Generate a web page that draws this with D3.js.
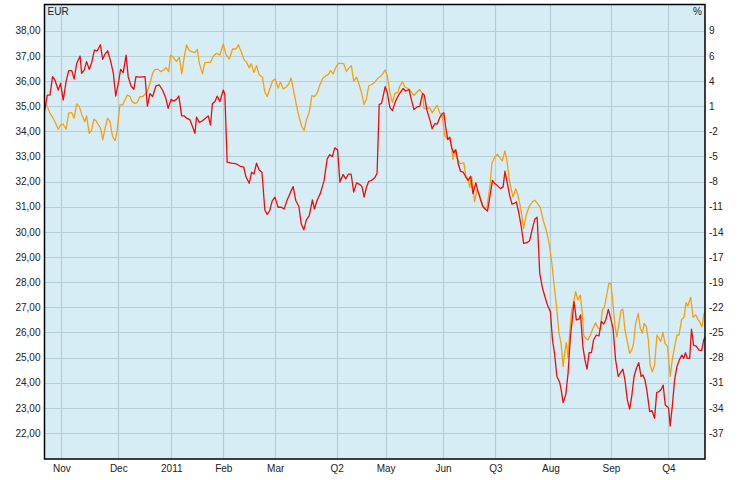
<!DOCTYPE html>
<html><head><meta charset="utf-8">
<script src="https://cdn.jsdelivr.net/npm/d3@7"></script>
<style>
html,body{margin:0;padding:0;background:#fff;}
svg{display:block;}
.tick text{font-family:"Liberation Sans",Arial,sans-serif;font-size:10px;fill:#222;}
</style></head>
<body>
<svg id="chart" width="750" height="480"></svg>
<script>
// trading-day index of month gridlines and their labels
const monthDays = [6.5, 28.4, 48.8, 68.8, 88.8, 112.4, 131.3, 153.4, 173.5, 194.7, 218, 240.1];
const monthLabels = ["Nov","Dec","2011","Feb","Mar","Q2","May","Jun","Q3","Aug","Sep","Q4"];
const priceTicks = [22,23,24,25,26,27,28,29,30,31,32,33,34,35,36,37,38];
const priceLabels = ["22,00","23,00","24,00","25,00","26,00","27,00","28,00","29,00","30,00","31,00","32,00","33,00","34,00","35,00","36,00","37,00","38,00"];
const pctLabels = ["-37","-34","-31","-28","-25","-22","-19","-17","-14","-11","-8","-5","-2","1","4","6","9"];
const dayDomain = [0, 254.2];
const priceDomain = [20.97, 39.04];

// [trading day, EUR] - stock (red)
const redSeries = [
[0,34.78],[1.1,35.44],[2.1,35.44],[3.1,36.17],[4,36.04],[5.3,35.64],[6.2,35.9],[7.2,35.24],[8.3,35.97],[9.3,36.41],
[10.5,36.41],[11.4,36.07],[12.4,36.7],[13.7,36.99],[14.3,36.3],[15.3,36.44],[16.2,36.77],[17.2,36.46],[18.1,36.7],[19.2,37.23],
[20.3,37.2],[21.5,37.44],[22.4,36.86],[23.3,37.07],[24.3,37.2],[25.5,36.77],[26.5,36.3],[27.4,35.4],[28.4,35.9],[29.3,36.46],
[30.3,36.33],[31.4,37.03],[32.2,36.17],[33.3,35.8],[34.4,35.67],[35.2,36.17],[36.7,36.15],[38.7,36.17],[39.6,35.0],[40.6,35.5],
[41.6,35.38],[42.9,35.8],[44.2,35.84],[45.5,35.62],[46.7,35.31],[47.6,34.91],[48.7,35.27],[49.6,35.2],[50.8,35.27],[51.7,35.4],
[52.8,34.61],[53.8,34.61],[54.7,34.52],[56,34.45],[57.2,34.12],[57.9,33.92],[58.5,34.56],[59.6,34.35],[60.8,34.42],[62.4,34.56],
[63,34.61],[63.9,34.25],[64.6,35.09],[65.6,35.18],[66.5,35.4],[67.5,35.18],[68.8,35.64],[69.4,35.48],[70.3,32.77],[72,32.73],
[73.9,32.7],[75.5,32.6],[76.7,32.57],[77.5,32.2],[78.8,31.93],[79.7,32.37],[80.6,32.3],[81.6,32.73],[82.6,32.46],[83.7,32.37],
[84.8,30.87],[85.7,30.69],[86.7,30.85],[87.6,31.22],[88.7,31.38],[89.9,30.98],[91.2,30.98],[92.2,30.91],[93.4,31.27],[94.7,31.58],
[95.7,31.8],[96.7,31.25],[97.9,31.01],[98.8,30.32],[99.8,30.08],[100.8,30.48],[101.9,30.65],[103.1,31.27],[103.9,30.91],[104.9,31.25],
[106.2,31.54],[107.6,32.04],[108.8,32.9],[109.8,33.07],[110.8,32.99],[111.7,33.34],[112.8,33.26],[113.7,31.97],[114.9,32.28],[116,32.11],
[117,32.3],[118,32.3],[119,31.58],[120.1,31.95],[121.4,31.88],[122.2,31.8],[123,31.38],[123.9,31.77],[124.8,32.01],[125.8,32.04],
[127.1,32.15],[128,32.33],[128.8,35.06],[129.7,35.11],[130.3,35.38],[131.1,35.77],[132,35.51],[132.9,34.95],[133.9,34.82],[135.2,35.22],
[136.5,35.48],[138,35.7],[139,35.6],[140.3,35.66],[141.2,35.26],[142.2,34.86],[143.4,34.97],[144.4,34.99],[145.5,35.5],[146.2,35.43],
[147.2,34.83],[148.3,34.46],[149.2,34.1],[150.2,34.3],[151.1,34.28],[152.1,34.54],[153.1,34.7],[153.7,34.73],[154.4,34.17],[155.2,33.67],
[156,33.75],[156.7,33.35],[157.5,33.14],[158.3,33.27],[159.2,32.72],[160.1,32.41],[161.1,32.38],[162.1,32.19],[163,32.05],[164,32.21],
[164.9,31.52],[166,31.95],[166.9,31.59],[167.8,31.28],[168.8,30.99],[169.8,30.89],[170.5,30.83],[171.4,31.39],[172.4,32.05],[173.3,31.92],
[174.2,31.85],[175.5,31.72],[176.5,31.79],[177.2,32.41],[178.1,31.95],[179,31.46],[179.9,31.1],[180.7,31.13],[181.6,31.19],[182.6,30.73],
[183.5,30.2],[184.4,29.54],[185.7,29.57],[186.7,29.65],[187.8,30.14],[188.7,30.5],[189.6,30.58],[190.6,28.35],[191.6,27.79],[192.6,27.42],
[193.7,27.05],[194.7,26.83],[195.5,25.7],[196.3,25.17],[197.2,24.25],[198.3,24.01],[198.9,23.69],[199.6,23.21],[200.6,23.52],[201.5,24.38],
[202.4,25.83],[203.1,26.5],[203.8,27.23],[204.7,26.5],[205.6,26.52],[206.3,26.7],[207.2,25.44],[208,24.91],[208.8,24.54],[209.6,25.2],
[210.5,25.2],[211.3,25.7],[212.4,25.9],[213.4,25.86],[214.3,26.44],[215.2,26.34],[216,26.5],[217,26.92],[217.8,26.6],[218.8,26.17],
[219.8,24.91],[220.8,24.25],[221.7,24.4],[222.6,24.54],[223.4,24.11],[224.3,23.32],[225.2,22.95],[226,23.46],[226.9,24.25],[227.8,24.58],
[228.7,24.8],[229.6,24.25],[230.3,24.31],[231.1,24.11],[231.9,23.65],[232.9,22.85],[233.8,22.89],[234.8,22.59],[235.6,23.61],[236.5,23.65],
[237.4,23.74],[238.1,23.91],[238.9,23.12],[239.7,23.05],[240.2,22.99],[240.8,22.28],[241.6,23.05],[242.5,24.11],[243.4,24.64],[244.4,24.93],
[245.3,25.1],[246,24.97],[246.7,25.2],[247.4,24.97],[248.3,24.97],[249,26.13],[249.8,25.5],[250.8,25.46],[251.9,25.3],[252.9,25.28],
[253.7,25.7],[254.2,25.83]
];

// [trading day, EUR-equivalent] - comparison index (orange)
const orangeSeries = [
[0,35.12],[1.1,34.98],[2.1,34.72],[3.1,34.56],[4,34.38],[5.3,34.08],[6.2,34.25],[7.2,34.28],[8.3,34.08],[9.3,34.72],
[10.5,34.74],[11.4,34.52],[12.4,35.09],[13.4,34.98],[14.4,34.65],[15.5,34.38],[16.2,34.61],[17.2,33.92],[18.1,34.03],[19,34.48],
[19.8,34.42],[20.8,34.25],[21.6,34.12],[22.4,33.66],[23.3,34.12],[24.3,34.52],[25.2,34.38],[26.2,33.79],[27.2,33.63],[28,34.05],
[29,35.05],[30.1,35.05],[31,35.25],[31.9,35.44],[32.9,35.38],[33.7,35.18],[34.7,35.11],[35.7,35.14],[36.7,35.38],[37.8,35.38],
[38.8,35.48],[39.6,35.58],[40.6,35.91],[41.6,36.3],[42.5,36.46],[43.8,36.46],[44.7,36.37],[46,36.44],[46.7,36.54],[47.8,36.37],
[48.5,37.03],[49.6,36.94],[50.8,36.77],[51.9,36.94],[52.8,36.28],[53.8,36.97],[54.7,37.43],[55.7,37.21],[56.7,37.17],[57.9,37.13],
[58.8,37.26],[59.6,36.7],[60.8,36.28],[61.7,36.73],[62.8,36.74],[63.9,36.74],[64.9,36.97],[66.2,37.1],[67.5,37.03],[68.8,37.47],
[69.8,37.07],[71.1,36.87],[72.4,37.27],[73.7,37.27],[74.6,37.44],[75.8,37.14],[76.7,36.87],[77.8,36.74],[78.8,36.52],[79.6,36.68],
[80.6,36.34],[81.6,36.61],[82.6,36.25],[83.9,36.15],[84.8,35.55],[85.7,35.38],[86.7,35.68],[87.8,36.01],[88.8,36.08],[89.9,35.72],
[90.8,35.95],[91.9,35.68],[92.9,35.75],[94,35.88],[94.9,36.12],[96,35.55],[97,35.02],[98,34.56],[99,34.19],[99.9,34.03],
[100.8,34.45],[101.9,34.76],[102.9,35.42],[103.9,35.38],[104.9,35.51],[106,35.85],[107.2,36.12],[108.3,36.21],[109.2,36.25],[110.1,36.41],
[111.1,36.28],[112.1,36.54],[113.1,36.7],[114.4,36.7],[115.2,36.68],[116.2,36.38],[117.2,36.52],[118.1,36.61],[119,35.99],[120.1,36.15],
[121.1,35.85],[122.1,35.51],[123,35.06],[123.9,35.28],[124.8,35.81],[125.8,35.85],[127.1,35.95],[128.4,36.12],[129.6,36.21],[130.3,36.3],
[131.1,36.44],[131.9,36.21],[132.9,35.55],[133.9,35.15],[134.9,35.51],[136,35.55],[136.7,35.79],[137.8,35.96],[138.7,35.76],[139.9,35.7],
[141.2,35.56],[142.2,35.43],[143.4,35.56],[144.4,35.66],[145.5,35.5],[146.1,34.9],[147.2,34.9],[148.3,34.94],[149.2,34.73],[150.2,34.9],
[151.1,35.03],[152.1,34.73],[153.1,34.64],[154,33.84],[154.9,33.71],[156,33.77],[156.7,33.38],[157.2,32.87],[157.9,33.25],[158.8,32.95],
[159.8,32.72],[160.6,32.72],[161.4,32.74],[162.1,32.25],[163,32.08],[163.7,31.76],[164.4,32.19],[165.5,31.19],[166.5,31.68],[167.5,31.46],
[168.5,31.06],[169.6,30.93],[170.3,30.99],[171.4,31.79],[172.2,32.74],[173.3,32.98],[174.3,33.09],[175.2,32.95],[176.2,32.82],[177.2,33.22],
[178,32.82],[179,31.99],[180.3,31.39],[181.4,31.72],[182.2,31.46],[182.9,31.13],[183.5,30.8],[184.4,30.14],[185.4,30.67],[186.5,31.0],
[187.8,31.2],[188.7,31.26],[189.9,31.1],[190.8,30.97],[191.9,30.47],[193.1,30.07],[194.2,29.54],[195.2,28.81],[196.2,27.82],[197.2,26.89],
[198,25.97],[198.8,25.57],[199.6,24.64],[200.2,25.2],[200.8,25.6],[201.5,25.01],[202.1,25.97],[202.9,26.89],[203.7,27.23],[204.4,27.62],
[205.3,27.29],[206.2,27.49],[207,26.76],[207.5,25.9],[208.3,25.77],[209.2,25.7],[210.1,25.9],[211.1,26.17],[212.1,26.39],[213.1,26.17],
[213.9,26.13],[214.7,26.89],[215.6,27.05],[216.5,27.56],[217.2,27.95],[218,27.95],[218.8,27.13],[219.6,26.23],[220.3,25.83],[221.1,26.36],
[221.9,26.89],[222.6,26.92],[223.4,26.1],[224.2,25.7],[225.2,25.17],[226,25.3],[226.7,25.57],[227.5,26.36],[228.5,26.76],[229.3,26.17],
[230.1,25.97],[230.8,26.36],[231.6,26.23],[232.4,25.7],[233.1,24.71],[233.9,24.44],[234.8,24.71],[235.7,25.9],[236.5,25.77],[237.1,25.64],
[238,26.0],[238.8,25.57],[239.8,25.44],[240.8,24.25],[241.6,24.91],[242.5,25.44],[243.4,25.9],[244.2,25.9],[245.2,26.52],[246.1,26.6],
[246.9,27.19],[247.6,27.05],[248.7,27.4],[249.6,26.6],[250.6,26.7],[251.5,26.52],[252.1,26.43],[253,26.23],[253.8,26.74],[254.2,26.83]
];

const W = 750, H = 480;
const margin = {top: 4.5, right: 45, bottom: 21, left: 44.5};
const svg = d3.select("#chart");
const x = d3.scaleLinear().domain(dayDomain).range([margin.left, W - margin.right]);
const y = d3.scaleLinear().domain(priceDomain).range([H - margin.bottom, margin.top]);

// plot background
svg.append("rect")
  .attr("x", margin.left).attr("y", margin.top)
  .attr("width", W - margin.right - margin.left).attr("height", H - margin.bottom - margin.top)
  .attr("fill", "#d6edf5");

// gridlines
const grid = svg.append("g").attr("stroke", "#b3ced8").attr("stroke-width", 1.2);
grid.selectAll("line.h").data(priceTicks).join("line").attr("class","h")
  .attr("x1", margin.left).attr("x2", W - margin.right)
  .attr("y1", d => Math.round(y(d)) + 0.5).attr("y2", d => Math.round(y(d)) + 0.5);
grid.selectAll("line.v").data(monthDays).join("line").attr("class","v")
  .attr("y1", margin.top).attr("y2", H - margin.bottom)
  .attr("x1", d => Math.round(x(d)) + 0.5).attr("x2", d => Math.round(x(d)) + 0.5);

// clip
svg.append("clipPath").attr("id","clip").append("rect")
  .attr("x", margin.left).attr("y", margin.top)
  .attr("width", W - margin.right - margin.left).attr("height", H - margin.bottom - margin.top);

const line = d3.line().x(d => x(d[0])).y(d => y(d[1]));
const plot = svg.append("g").attr("clip-path","url(#clip)");
plot.append("path").datum(orangeSeries).attr("d", line)
  .attr("fill","none").attr("stroke","#f7a00e").attr("stroke-width",1.3).attr("stroke-linejoin","round");
plot.append("path").datum(redSeries).attr("d", line)
  .attr("fill","none").attr("stroke","#f00a0a").attr("stroke-width",1.3).attr("stroke-linejoin","round");

// border
svg.append("rect")
  .attr("x", margin.left).attr("y", margin.top)
  .attr("width", W - margin.right - margin.left).attr("height", H - margin.bottom - margin.top)
  .attr("fill","none").attr("stroke","#000").attr("stroke-width",1.5);

// axes
const leftAxis = d3.axisLeft(y).tickValues(priceTicks).tickSize(0).tickPadding(4)
  .tickFormat((d,i) => priceLabels[i]);
svg.append("g").attr("transform", `translate(${margin.left},0)`).call(leftAxis)
  .call(g => g.select(".domain").remove());

const rightAxis = d3.axisRight(y).tickValues(priceTicks).tickSize(0).tickPadding(4)
  .tickFormat((d,i) => pctLabels[i]);
svg.append("g").attr("transform", `translate(${W - margin.right},0)`).call(rightAxis)
  .call(g => g.select(".domain").remove());

const bottomAxis = d3.axisBottom(x).tickValues(monthDays).tickSize(0).tickPadding(6)
  .tickFormat((d,i) => monthLabels[i]);
svg.append("g").attr("transform", `translate(0,${H - margin.bottom})`).call(bottomAxis)
  .call(g => g.select(".domain").remove());

// unit labels
svg.append("text").attr("x", margin.left + 3).attr("y", margin.top + 10)
  .attr("font-family","Liberation Sans, Arial, sans-serif").attr("font-size",10).attr("fill","#222").text("EUR");
svg.append("text").attr("x", W - margin.right - 3).attr("y", margin.top + 10).attr("text-anchor","end")
  .attr("font-family","Liberation Sans, Arial, sans-serif").attr("font-size",10).attr("fill","#222").text("%");
</script>
</body></html>
